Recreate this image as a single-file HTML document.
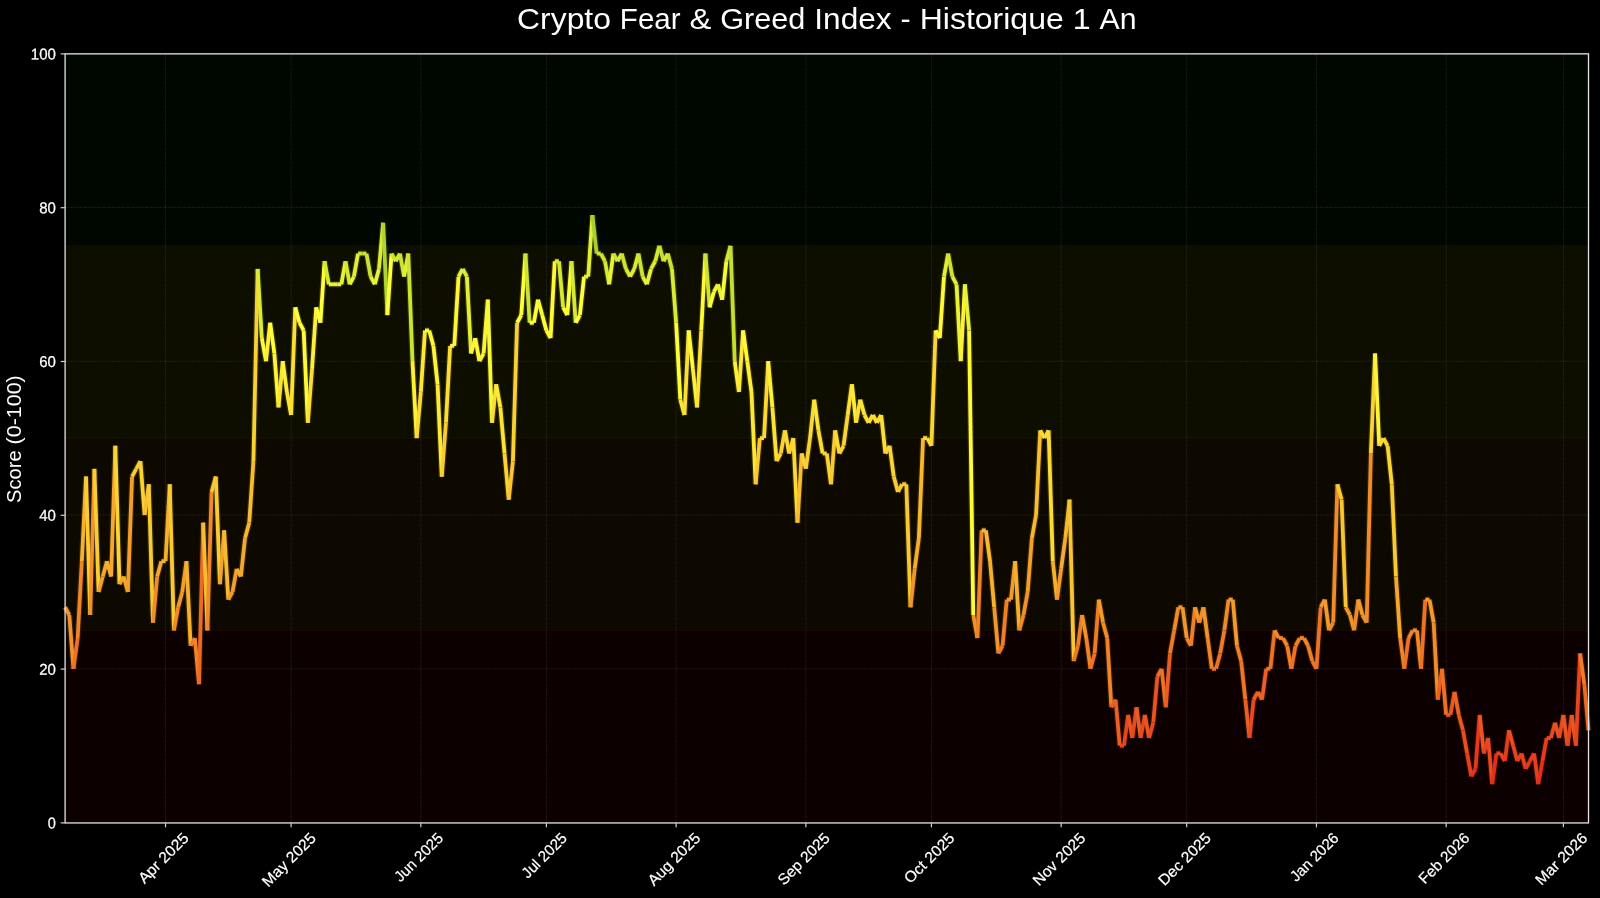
<!DOCTYPE html>
<html><head><meta charset="utf-8"><title>Crypto Fear &amp; Greed Index</title>
<style>html,body{margin:0;padding:0;background:#000;overflow:hidden}svg{display:block;will-change:transform}text{font-family:"Liberation Sans",sans-serif;fill:#fff}</style></head><body>
<svg width="1600" height="898" viewBox="0 0 1600 898">
<rect width="1600" height="898" fill="#000"/>
<rect x="65.10" y="53.60" width="1523.40" height="192.25" fill="#000600"/>
<rect x="65.10" y="245.85" width="1523.40" height="192.25" fill="#0d0d00"/>
<rect x="65.10" y="438.10" width="1523.40" height="192.25" fill="#0d0800"/>
<rect x="65.10" y="630.35" width="1523.40" height="192.25" fill="#0d0000"/>
<rect x="65.10" y="245.30" width="1523.40" height="1.1" fill="#0d1300"/>
<rect x="65.10" y="437.55" width="1523.40" height="1.1" fill="#1a1500"/>
<rect x="65.10" y="629.80" width="1523.40" height="1.1" fill="#1a0800"/>
<g stroke="#fff" stroke-opacity="0.030" stroke-width="1.1" fill="none">
<line x1="65.10" y1="668.80" x2="1588.50" y2="668.80"/>
<line x1="65.10" y1="515.00" x2="1588.50" y2="515.00"/>
<line x1="65.10" y1="361.20" x2="1588.50" y2="361.20"/>
<line x1="65.10" y1="207.40" x2="1588.50" y2="207.40"/>
<line x1="165.54" y1="822.60" x2="165.54" y2="53.60"/>
<line x1="291.10" y1="822.60" x2="291.10" y2="53.60"/>
<line x1="420.84" y1="822.60" x2="420.84" y2="53.60"/>
<line x1="546.39" y1="822.60" x2="546.39" y2="53.60"/>
<line x1="676.13" y1="822.60" x2="676.13" y2="53.60"/>
<line x1="805.87" y1="822.60" x2="805.87" y2="53.60"/>
<line x1="931.43" y1="822.60" x2="931.43" y2="53.60"/>
<line x1="1061.17" y1="822.60" x2="1061.17" y2="53.60"/>
<line x1="1186.72" y1="822.60" x2="1186.72" y2="53.60"/>
<line x1="1316.46" y1="822.60" x2="1316.46" y2="53.60"/>
<line x1="1446.20" y1="822.60" x2="1446.20" y2="53.60"/>
<line x1="1563.39" y1="822.60" x2="1563.39" y2="53.60"/>
</g>
<g stroke="#fff" stroke-opacity="0.050" stroke-width="1.1" stroke-dasharray="3.1 1.6" fill="none">
<line x1="65.10" y1="668.80" x2="1588.50" y2="668.80"/>
<line x1="65.10" y1="515.00" x2="1588.50" y2="515.00"/>
<line x1="65.10" y1="361.20" x2="1588.50" y2="361.20"/>
<line x1="65.10" y1="207.40" x2="1588.50" y2="207.40"/>
<line x1="165.54" y1="822.60" x2="165.54" y2="53.60"/>
<line x1="291.10" y1="822.60" x2="291.10" y2="53.60"/>
<line x1="420.84" y1="822.60" x2="420.84" y2="53.60"/>
<line x1="546.39" y1="822.60" x2="546.39" y2="53.60"/>
<line x1="676.13" y1="822.60" x2="676.13" y2="53.60"/>
<line x1="805.87" y1="822.60" x2="805.87" y2="53.60"/>
<line x1="931.43" y1="822.60" x2="931.43" y2="53.60"/>
<line x1="1061.17" y1="822.60" x2="1061.17" y2="53.60"/>
<line x1="1186.72" y1="822.60" x2="1186.72" y2="53.60"/>
<line x1="1316.46" y1="822.60" x2="1316.46" y2="53.60"/>
<line x1="1446.20" y1="822.60" x2="1446.20" y2="53.60"/>
<line x1="1563.39" y1="822.60" x2="1563.39" y2="53.60"/>
</g>
<defs><g id="segs" stroke-linecap="butt" fill="none">
<line x1="65.10" y1="607.28" x2="69.29" y2="614.97" stroke="#f1962b"/>
<line x1="69.29" y1="614.97" x2="73.47" y2="668.80" stroke="#f1932a"/>
<line x1="73.47" y1="668.80" x2="77.66" y2="638.04" stroke="#ec7326"/>
<line x1="77.66" y1="638.04" x2="81.84" y2="561.14" stroke="#ef8428"/>
<line x1="81.84" y1="561.14" x2="86.03" y2="476.55" stroke="#f5b12e"/>
<line x1="86.03" y1="476.55" x2="90.21" y2="614.97" stroke="#f9cc32"/>
<line x1="90.21" y1="614.97" x2="94.40" y2="468.86" stroke="#f1932a"/>
<line x1="94.40" y1="468.86" x2="98.58" y2="591.90" stroke="#f9ce32"/>
<line x1="98.58" y1="591.90" x2="102.77" y2="576.52" stroke="#f39f2c"/>
<line x1="102.77" y1="576.52" x2="106.95" y2="561.14" stroke="#f4a82d"/>
<line x1="106.95" y1="561.14" x2="111.14" y2="576.52" stroke="#f5b12e"/>
<line x1="111.14" y1="576.52" x2="115.32" y2="445.79" stroke="#f4a82d"/>
<line x1="115.32" y1="445.79" x2="119.51" y2="584.21" stroke="#fad534"/>
<line x1="119.51" y1="584.21" x2="123.69" y2="576.52" stroke="#f3a42d"/>
<line x1="123.69" y1="576.52" x2="127.88" y2="591.90" stroke="#f4a82d"/>
<line x1="127.88" y1="591.90" x2="132.06" y2="476.55" stroke="#f39f2c"/>
<line x1="132.06" y1="476.55" x2="136.25" y2="468.86" stroke="#f9cc32"/>
<line x1="136.25" y1="468.86" x2="140.43" y2="461.17" stroke="#f9ce32"/>
<line x1="140.43" y1="461.17" x2="144.62" y2="515.00" stroke="#fad033"/>
<line x1="144.62" y1="515.00" x2="148.80" y2="484.24" stroke="#f7bf30"/>
<line x1="148.80" y1="484.24" x2="152.99" y2="622.66" stroke="#f9c932"/>
<line x1="152.99" y1="622.66" x2="157.17" y2="576.52" stroke="#f08d29"/>
<line x1="157.17" y1="576.52" x2="161.36" y2="561.14" stroke="#f4a82d"/>
<line x1="161.36" y1="561.14" x2="165.54" y2="561.14" stroke="#f5b12e"/>
<line x1="165.54" y1="561.14" x2="169.73" y2="484.24" stroke="#f5b12e"/>
<line x1="169.73" y1="484.24" x2="173.91" y2="630.35" stroke="#f9c932"/>
<line x1="173.91" y1="630.35" x2="178.10" y2="607.28" stroke="#f08a29"/>
<line x1="178.10" y1="607.28" x2="182.28" y2="591.90" stroke="#f1962b"/>
<line x1="182.28" y1="591.90" x2="186.47" y2="561.14" stroke="#f39f2c"/>
<line x1="186.47" y1="561.14" x2="190.65" y2="645.73" stroke="#f5b12e"/>
<line x1="190.65" y1="645.73" x2="194.84" y2="638.04" stroke="#ee7f27"/>
<line x1="194.84" y1="638.04" x2="199.03" y2="684.18" stroke="#ef8428"/>
<line x1="199.03" y1="684.18" x2="203.21" y2="522.69" stroke="#eb6a24"/>
<line x1="203.21" y1="522.69" x2="207.40" y2="630.35" stroke="#f7bc30"/>
<line x1="207.40" y1="630.35" x2="211.58" y2="491.93" stroke="#f08a29"/>
<line x1="211.58" y1="491.93" x2="215.77" y2="476.55" stroke="#f8c732"/>
<line x1="215.77" y1="476.55" x2="219.95" y2="584.21" stroke="#f9cc32"/>
<line x1="219.95" y1="584.21" x2="224.14" y2="530.38" stroke="#f3a42d"/>
<line x1="224.14" y1="530.38" x2="228.32" y2="599.59" stroke="#f7ba30"/>
<line x1="228.32" y1="599.59" x2="232.51" y2="591.90" stroke="#f29b2b"/>
<line x1="232.51" y1="591.90" x2="236.69" y2="568.83" stroke="#f39f2c"/>
<line x1="236.69" y1="568.83" x2="240.88" y2="576.52" stroke="#f5ad2e"/>
<line x1="240.88" y1="576.52" x2="245.06" y2="538.07" stroke="#f4a82d"/>
<line x1="245.06" y1="538.07" x2="249.25" y2="522.69" stroke="#f6b72f"/>
<line x1="249.25" y1="522.69" x2="253.43" y2="461.17" stroke="#f7bc30"/>
<line x1="253.43" y1="461.17" x2="257.62" y2="268.92" stroke="#fad033"/>
<line x1="257.62" y1="268.92" x2="261.80" y2="338.13" stroke="#daeb34"/>
<line x1="261.80" y1="338.13" x2="265.99" y2="361.20" stroke="#fff838"/>
<line x1="265.99" y1="361.20" x2="270.17" y2="322.75" stroke="#fef037"/>
<line x1="270.17" y1="322.75" x2="274.36" y2="353.51" stroke="#fffd39"/>
<line x1="274.36" y1="353.51" x2="278.54" y2="407.34" stroke="#fff338"/>
<line x1="278.54" y1="407.34" x2="282.73" y2="361.20" stroke="#fce235"/>
<line x1="282.73" y1="361.20" x2="286.91" y2="391.96" stroke="#fef037"/>
<line x1="286.91" y1="391.96" x2="291.10" y2="415.03" stroke="#fde736"/>
<line x1="291.10" y1="415.03" x2="295.28" y2="307.37" stroke="#fcdf35"/>
<line x1="295.28" y1="307.37" x2="299.47" y2="322.75" stroke="#feff39"/>
<line x1="299.47" y1="322.75" x2="303.65" y2="330.44" stroke="#fffd39"/>
<line x1="303.65" y1="330.44" x2="307.84" y2="422.72" stroke="#fffa39"/>
<line x1="307.84" y1="422.72" x2="312.02" y2="368.89" stroke="#fcdd35"/>
<line x1="312.02" y1="368.89" x2="316.21" y2="307.37" stroke="#feee37"/>
<line x1="316.21" y1="307.37" x2="320.40" y2="322.75" stroke="#feff39"/>
<line x1="320.40" y1="322.75" x2="324.58" y2="261.23" stroke="#fffd39"/>
<line x1="324.58" y1="261.23" x2="328.77" y2="284.30" stroke="#d5e833"/>
<line x1="328.77" y1="284.30" x2="332.95" y2="284.30" stroke="#e8f336"/>
<line x1="332.95" y1="284.30" x2="337.14" y2="284.30" stroke="#e8f336"/>
<line x1="337.14" y1="284.30" x2="341.32" y2="284.30" stroke="#e8f336"/>
<line x1="341.32" y1="284.30" x2="345.51" y2="261.23" stroke="#e8f336"/>
<line x1="345.51" y1="261.23" x2="349.69" y2="284.30" stroke="#d5e833"/>
<line x1="349.69" y1="284.30" x2="353.88" y2="276.61" stroke="#e8f336"/>
<line x1="353.88" y1="276.61" x2="358.06" y2="253.54" stroke="#e3ef35"/>
<line x1="358.06" y1="253.54" x2="362.25" y2="253.54" stroke="#cde332"/>
<line x1="362.25" y1="253.54" x2="366.43" y2="253.54" stroke="#cde332"/>
<line x1="366.43" y1="253.54" x2="370.62" y2="276.61" stroke="#cde332"/>
<line x1="370.62" y1="276.61" x2="374.80" y2="284.30" stroke="#e3ef35"/>
<line x1="374.80" y1="284.30" x2="378.99" y2="268.92" stroke="#e8f336"/>
<line x1="378.99" y1="268.92" x2="383.17" y2="222.78" stroke="#daeb34"/>
<line x1="383.17" y1="222.78" x2="387.36" y2="315.06" stroke="#b1d32e"/>
<line x1="387.36" y1="315.06" x2="391.54" y2="253.54" stroke="#ffff39"/>
<line x1="391.54" y1="253.54" x2="395.73" y2="261.23" stroke="#cde332"/>
<line x1="395.73" y1="261.23" x2="399.91" y2="253.54" stroke="#d5e833"/>
<line x1="399.91" y1="253.54" x2="404.10" y2="276.61" stroke="#cde332"/>
<line x1="404.10" y1="276.61" x2="408.28" y2="253.54" stroke="#e3ef35"/>
<line x1="408.28" y1="253.54" x2="412.47" y2="361.20" stroke="#cde332"/>
<line x1="412.47" y1="361.20" x2="416.65" y2="438.10" stroke="#fef037"/>
<line x1="416.65" y1="438.10" x2="420.84" y2="391.96" stroke="#fbd834"/>
<line x1="420.84" y1="391.96" x2="425.02" y2="330.44" stroke="#fde736"/>
<line x1="425.02" y1="330.44" x2="429.21" y2="330.44" stroke="#fffa39"/>
<line x1="429.21" y1="330.44" x2="433.39" y2="345.82" stroke="#fffa39"/>
<line x1="433.39" y1="345.82" x2="437.58" y2="384.27" stroke="#fff538"/>
<line x1="437.58" y1="384.27" x2="441.76" y2="476.55" stroke="#fde936"/>
<line x1="441.76" y1="476.55" x2="445.95" y2="422.72" stroke="#f9cc32"/>
<line x1="445.95" y1="422.72" x2="450.14" y2="345.82" stroke="#fcdd35"/>
<line x1="450.14" y1="345.82" x2="454.32" y2="345.82" stroke="#fff538"/>
<line x1="454.32" y1="345.82" x2="458.51" y2="276.61" stroke="#fff538"/>
<line x1="458.51" y1="276.61" x2="462.69" y2="268.92" stroke="#e3ef35"/>
<line x1="462.69" y1="268.92" x2="466.88" y2="276.61" stroke="#daeb34"/>
<line x1="466.88" y1="276.61" x2="471.06" y2="353.51" stroke="#e3ef35"/>
<line x1="471.06" y1="353.51" x2="475.25" y2="338.13" stroke="#fff338"/>
<line x1="475.25" y1="338.13" x2="479.43" y2="361.20" stroke="#fff838"/>
<line x1="479.43" y1="361.20" x2="483.62" y2="353.51" stroke="#fef037"/>
<line x1="483.62" y1="353.51" x2="487.80" y2="299.68" stroke="#fff338"/>
<line x1="487.80" y1="299.68" x2="491.99" y2="422.72" stroke="#f6fa38"/>
<line x1="491.99" y1="422.72" x2="496.17" y2="384.27" stroke="#fcdd35"/>
<line x1="496.17" y1="384.27" x2="500.36" y2="407.34" stroke="#fde936"/>
<line x1="500.36" y1="407.34" x2="504.54" y2="453.48" stroke="#fce235"/>
<line x1="504.54" y1="453.48" x2="508.73" y2="499.62" stroke="#fad233"/>
<line x1="508.73" y1="499.62" x2="512.91" y2="461.17" stroke="#f8c431"/>
<line x1="512.91" y1="461.17" x2="517.10" y2="322.75" stroke="#fad033"/>
<line x1="517.10" y1="322.75" x2="521.28" y2="315.06" stroke="#fffd39"/>
<line x1="521.28" y1="315.06" x2="525.47" y2="253.54" stroke="#ffff39"/>
<line x1="525.47" y1="253.54" x2="529.65" y2="322.75" stroke="#cde332"/>
<line x1="529.65" y1="322.75" x2="533.84" y2="322.75" stroke="#fffd39"/>
<line x1="533.84" y1="322.75" x2="538.02" y2="299.68" stroke="#fffd39"/>
<line x1="538.02" y1="299.68" x2="542.21" y2="315.06" stroke="#f6fa38"/>
<line x1="542.21" y1="315.06" x2="546.39" y2="330.44" stroke="#ffff39"/>
<line x1="546.39" y1="330.44" x2="550.58" y2="338.13" stroke="#fffa39"/>
<line x1="550.58" y1="338.13" x2="554.76" y2="261.23" stroke="#fff838"/>
<line x1="554.76" y1="261.23" x2="558.95" y2="261.23" stroke="#d5e833"/>
<line x1="558.95" y1="261.23" x2="563.13" y2="307.37" stroke="#d5e833"/>
<line x1="563.13" y1="307.37" x2="567.32" y2="315.06" stroke="#feff39"/>
<line x1="567.32" y1="315.06" x2="571.50" y2="261.23" stroke="#ffff39"/>
<line x1="571.50" y1="261.23" x2="575.69" y2="322.75" stroke="#d5e833"/>
<line x1="575.69" y1="322.75" x2="579.88" y2="315.06" stroke="#fffd39"/>
<line x1="579.88" y1="315.06" x2="584.06" y2="276.61" stroke="#ffff39"/>
<line x1="584.06" y1="276.61" x2="588.25" y2="276.61" stroke="#e3ef35"/>
<line x1="588.25" y1="276.61" x2="592.43" y2="215.09" stroke="#e3ef35"/>
<line x1="592.43" y1="215.09" x2="596.62" y2="253.54" stroke="#a9cf2d"/>
<line x1="596.62" y1="253.54" x2="600.80" y2="253.54" stroke="#cde332"/>
<line x1="600.80" y1="253.54" x2="604.99" y2="261.23" stroke="#cde332"/>
<line x1="604.99" y1="261.23" x2="609.17" y2="284.30" stroke="#d5e833"/>
<line x1="609.17" y1="284.30" x2="613.36" y2="253.54" stroke="#e8f336"/>
<line x1="613.36" y1="253.54" x2="617.54" y2="261.23" stroke="#cde332"/>
<line x1="617.54" y1="261.23" x2="621.73" y2="253.54" stroke="#d5e833"/>
<line x1="621.73" y1="253.54" x2="625.91" y2="268.92" stroke="#cde332"/>
<line x1="625.91" y1="268.92" x2="630.10" y2="276.61" stroke="#daeb34"/>
<line x1="630.10" y1="276.61" x2="634.28" y2="268.92" stroke="#e3ef35"/>
<line x1="634.28" y1="268.92" x2="638.47" y2="253.54" stroke="#daeb34"/>
<line x1="638.47" y1="253.54" x2="642.65" y2="276.61" stroke="#cde332"/>
<line x1="642.65" y1="276.61" x2="646.84" y2="284.30" stroke="#e3ef35"/>
<line x1="646.84" y1="284.30" x2="651.02" y2="268.92" stroke="#e8f336"/>
<line x1="651.02" y1="268.92" x2="655.21" y2="261.23" stroke="#daeb34"/>
<line x1="655.21" y1="261.23" x2="659.39" y2="245.85" stroke="#d5e833"/>
<line x1="659.39" y1="245.85" x2="663.58" y2="261.23" stroke="#c5de31"/>
<line x1="663.58" y1="261.23" x2="667.76" y2="253.54" stroke="#d5e833"/>
<line x1="667.76" y1="253.54" x2="671.95" y2="268.92" stroke="#cde332"/>
<line x1="671.95" y1="268.92" x2="676.13" y2="322.75" stroke="#daeb34"/>
<line x1="676.13" y1="322.75" x2="680.32" y2="399.65" stroke="#fffd39"/>
<line x1="680.32" y1="399.65" x2="684.50" y2="415.03" stroke="#fde436"/>
<line x1="684.50" y1="415.03" x2="688.69" y2="330.44" stroke="#fcdf35"/>
<line x1="688.69" y1="330.44" x2="692.87" y2="368.89" stroke="#fffa39"/>
<line x1="692.87" y1="368.89" x2="697.06" y2="407.34" stroke="#feee37"/>
<line x1="697.06" y1="407.34" x2="701.25" y2="330.44" stroke="#fce235"/>
<line x1="701.25" y1="330.44" x2="705.43" y2="253.54" stroke="#fffa39"/>
<line x1="705.43" y1="253.54" x2="709.62" y2="307.37" stroke="#cde332"/>
<line x1="709.62" y1="307.37" x2="713.80" y2="291.99" stroke="#feff39"/>
<line x1="713.80" y1="291.99" x2="717.99" y2="284.30" stroke="#f0f737"/>
<line x1="717.99" y1="284.30" x2="722.17" y2="299.68" stroke="#e8f336"/>
<line x1="722.17" y1="299.68" x2="726.36" y2="261.23" stroke="#f6fa38"/>
<line x1="726.36" y1="261.23" x2="730.54" y2="245.85" stroke="#d5e833"/>
<line x1="730.54" y1="245.85" x2="734.73" y2="361.20" stroke="#c5de31"/>
<line x1="734.73" y1="361.20" x2="738.91" y2="391.96" stroke="#fef037"/>
<line x1="738.91" y1="391.96" x2="743.10" y2="330.44" stroke="#fde736"/>
<line x1="743.10" y1="330.44" x2="747.28" y2="361.20" stroke="#fffa39"/>
<line x1="747.28" y1="361.20" x2="751.47" y2="391.96" stroke="#fef037"/>
<line x1="751.47" y1="391.96" x2="755.65" y2="484.24" stroke="#fde736"/>
<line x1="755.65" y1="484.24" x2="759.84" y2="438.10" stroke="#f9c932"/>
<line x1="759.84" y1="438.10" x2="764.02" y2="438.10" stroke="#fbd834"/>
<line x1="764.02" y1="438.10" x2="768.21" y2="361.20" stroke="#fbd834"/>
<line x1="768.21" y1="361.20" x2="772.39" y2="407.34" stroke="#fef037"/>
<line x1="772.39" y1="407.34" x2="776.58" y2="461.17" stroke="#fce235"/>
<line x1="776.58" y1="461.17" x2="780.76" y2="453.48" stroke="#fad033"/>
<line x1="780.76" y1="453.48" x2="784.95" y2="430.41" stroke="#fad233"/>
<line x1="784.95" y1="430.41" x2="789.13" y2="453.48" stroke="#fbda34"/>
<line x1="789.13" y1="453.48" x2="793.32" y2="438.10" stroke="#fad233"/>
<line x1="793.32" y1="438.10" x2="797.50" y2="522.69" stroke="#fbd834"/>
<line x1="797.50" y1="522.69" x2="801.69" y2="453.48" stroke="#f7bc30"/>
<line x1="801.69" y1="453.48" x2="805.87" y2="468.86" stroke="#fad233"/>
<line x1="805.87" y1="468.86" x2="810.06" y2="438.10" stroke="#f9ce32"/>
<line x1="810.06" y1="438.10" x2="814.24" y2="399.65" stroke="#fbd834"/>
<line x1="814.24" y1="399.65" x2="818.43" y2="430.41" stroke="#fde436"/>
<line x1="818.43" y1="430.41" x2="822.61" y2="453.48" stroke="#fbda34"/>
<line x1="822.61" y1="453.48" x2="826.80" y2="453.48" stroke="#fad233"/>
<line x1="826.80" y1="453.48" x2="830.99" y2="484.24" stroke="#fad233"/>
<line x1="830.99" y1="484.24" x2="835.17" y2="430.41" stroke="#f9c932"/>
<line x1="835.17" y1="430.41" x2="839.36" y2="453.48" stroke="#fbda34"/>
<line x1="839.36" y1="453.48" x2="843.54" y2="445.79" stroke="#fad233"/>
<line x1="843.54" y1="445.79" x2="847.73" y2="415.03" stroke="#fad534"/>
<line x1="847.73" y1="415.03" x2="851.91" y2="384.27" stroke="#fcdf35"/>
<line x1="851.91" y1="384.27" x2="856.10" y2="422.72" stroke="#fde936"/>
<line x1="856.10" y1="422.72" x2="860.28" y2="399.65" stroke="#fcdd35"/>
<line x1="860.28" y1="399.65" x2="864.47" y2="415.03" stroke="#fde436"/>
<line x1="864.47" y1="415.03" x2="868.65" y2="422.72" stroke="#fcdf35"/>
<line x1="868.65" y1="422.72" x2="872.84" y2="415.03" stroke="#fcdd35"/>
<line x1="872.84" y1="415.03" x2="877.02" y2="422.72" stroke="#fcdf35"/>
<line x1="877.02" y1="422.72" x2="881.21" y2="415.03" stroke="#fcdd35"/>
<line x1="881.21" y1="415.03" x2="885.39" y2="453.48" stroke="#fcdf35"/>
<line x1="885.39" y1="453.48" x2="889.58" y2="445.79" stroke="#fad233"/>
<line x1="889.58" y1="445.79" x2="893.76" y2="476.55" stroke="#fad534"/>
<line x1="893.76" y1="476.55" x2="897.95" y2="491.93" stroke="#f9cc32"/>
<line x1="897.95" y1="491.93" x2="902.13" y2="484.24" stroke="#f8c732"/>
<line x1="902.13" y1="484.24" x2="906.32" y2="484.24" stroke="#f9c932"/>
<line x1="906.32" y1="484.24" x2="910.50" y2="607.28" stroke="#f9c932"/>
<line x1="910.50" y1="607.28" x2="914.69" y2="568.83" stroke="#f1962b"/>
<line x1="914.69" y1="568.83" x2="918.87" y2="538.07" stroke="#f5ad2e"/>
<line x1="918.87" y1="538.07" x2="923.06" y2="438.10" stroke="#f6b72f"/>
<line x1="923.06" y1="438.10" x2="927.24" y2="438.10" stroke="#fbd834"/>
<line x1="927.24" y1="438.10" x2="931.43" y2="445.79" stroke="#fbd834"/>
<line x1="931.43" y1="445.79" x2="935.61" y2="330.44" stroke="#fad534"/>
<line x1="935.61" y1="330.44" x2="939.80" y2="338.13" stroke="#fffa39"/>
<line x1="939.80" y1="338.13" x2="943.98" y2="276.61" stroke="#fff838"/>
<line x1="943.98" y1="276.61" x2="948.17" y2="253.54" stroke="#e3ef35"/>
<line x1="948.17" y1="253.54" x2="952.35" y2="276.61" stroke="#cde332"/>
<line x1="952.35" y1="276.61" x2="956.54" y2="284.30" stroke="#e3ef35"/>
<line x1="956.54" y1="284.30" x2="960.73" y2="361.20" stroke="#e8f336"/>
<line x1="960.73" y1="361.20" x2="964.91" y2="284.30" stroke="#fef037"/>
<line x1="964.91" y1="284.30" x2="969.10" y2="330.44" stroke="#e8f336"/>
<line x1="969.10" y1="330.44" x2="973.28" y2="614.97" stroke="#fffa39"/>
<line x1="973.28" y1="614.97" x2="977.47" y2="638.04" stroke="#f1932a"/>
<line x1="977.47" y1="638.04" x2="981.65" y2="530.38" stroke="#ef8428"/>
<line x1="981.65" y1="530.38" x2="985.84" y2="530.38" stroke="#f7ba30"/>
<line x1="985.84" y1="530.38" x2="990.02" y2="561.14" stroke="#f7ba30"/>
<line x1="990.02" y1="561.14" x2="994.21" y2="607.28" stroke="#f5b12e"/>
<line x1="994.21" y1="607.28" x2="998.39" y2="653.42" stroke="#f1962b"/>
<line x1="998.39" y1="653.42" x2="1002.58" y2="645.73" stroke="#ee7c27"/>
<line x1="1002.58" y1="645.73" x2="1006.76" y2="599.59" stroke="#ee7f27"/>
<line x1="1006.76" y1="599.59" x2="1010.95" y2="599.59" stroke="#f29b2b"/>
<line x1="1010.95" y1="599.59" x2="1015.13" y2="561.14" stroke="#f29b2b"/>
<line x1="1015.13" y1="561.14" x2="1019.32" y2="630.35" stroke="#f5b12e"/>
<line x1="1019.32" y1="630.35" x2="1023.50" y2="614.97" stroke="#f08a29"/>
<line x1="1023.50" y1="614.97" x2="1027.69" y2="591.90" stroke="#f1932a"/>
<line x1="1027.69" y1="591.90" x2="1031.87" y2="538.07" stroke="#f39f2c"/>
<line x1="1031.87" y1="538.07" x2="1036.06" y2="515.00" stroke="#f6b72f"/>
<line x1="1036.06" y1="515.00" x2="1040.24" y2="430.41" stroke="#f7bf30"/>
<line x1="1040.24" y1="430.41" x2="1044.43" y2="438.10" stroke="#fbda34"/>
<line x1="1044.43" y1="438.10" x2="1048.61" y2="430.41" stroke="#fbd834"/>
<line x1="1048.61" y1="430.41" x2="1052.80" y2="561.14" stroke="#fbda34"/>
<line x1="1052.80" y1="561.14" x2="1056.98" y2="599.59" stroke="#f5b12e"/>
<line x1="1056.98" y1="599.59" x2="1061.17" y2="568.83" stroke="#f29b2b"/>
<line x1="1061.17" y1="568.83" x2="1065.35" y2="538.07" stroke="#f5ad2e"/>
<line x1="1065.35" y1="538.07" x2="1069.54" y2="499.62" stroke="#f6b72f"/>
<line x1="1069.54" y1="499.62" x2="1073.72" y2="661.11" stroke="#f8c431"/>
<line x1="1073.72" y1="661.11" x2="1077.91" y2="645.73" stroke="#ed7626"/>
<line x1="1077.91" y1="645.73" x2="1082.10" y2="614.97" stroke="#ee7f27"/>
<line x1="1082.10" y1="614.97" x2="1086.28" y2="638.04" stroke="#f1932a"/>
<line x1="1086.28" y1="638.04" x2="1090.47" y2="668.80" stroke="#ef8428"/>
<line x1="1090.47" y1="668.80" x2="1094.65" y2="653.42" stroke="#ec7326"/>
<line x1="1094.65" y1="653.42" x2="1098.84" y2="599.59" stroke="#ee7c27"/>
<line x1="1098.84" y1="599.59" x2="1103.02" y2="622.66" stroke="#f29b2b"/>
<line x1="1103.02" y1="622.66" x2="1107.21" y2="638.04" stroke="#f08d29"/>
<line x1="1107.21" y1="638.04" x2="1111.39" y2="707.25" stroke="#ef8428"/>
<line x1="1111.39" y1="707.25" x2="1115.58" y2="699.56" stroke="#e95c22"/>
<line x1="1115.58" y1="699.56" x2="1119.76" y2="745.70" stroke="#ea5f23"/>
<line x1="1119.76" y1="745.70" x2="1123.95" y2="745.70" stroke="#e6451f"/>
<line x1="1123.95" y1="745.70" x2="1128.13" y2="714.94" stroke="#e6451f"/>
<line x1="1128.13" y1="714.94" x2="1132.32" y2="738.01" stroke="#e85722"/>
<line x1="1132.32" y1="738.01" x2="1136.50" y2="707.25" stroke="#e74a20"/>
<line x1="1136.50" y1="707.25" x2="1140.69" y2="738.01" stroke="#e95c22"/>
<line x1="1140.69" y1="738.01" x2="1144.87" y2="714.94" stroke="#e74a20"/>
<line x1="1144.87" y1="714.94" x2="1149.06" y2="738.01" stroke="#e85722"/>
<line x1="1149.06" y1="738.01" x2="1153.24" y2="722.63" stroke="#e74a20"/>
<line x1="1153.24" y1="722.63" x2="1157.43" y2="676.49" stroke="#e85321"/>
<line x1="1157.43" y1="676.49" x2="1161.61" y2="668.80" stroke="#ec6d25"/>
<line x1="1161.61" y1="668.80" x2="1165.80" y2="707.25" stroke="#ec7326"/>
<line x1="1165.80" y1="707.25" x2="1169.98" y2="653.42" stroke="#e95c22"/>
<line x1="1169.98" y1="653.42" x2="1174.17" y2="630.35" stroke="#ee7c27"/>
<line x1="1174.17" y1="630.35" x2="1178.35" y2="607.28" stroke="#f08a29"/>
<line x1="1178.35" y1="607.28" x2="1182.54" y2="607.28" stroke="#f1962b"/>
<line x1="1182.54" y1="607.28" x2="1186.72" y2="638.04" stroke="#f1962b"/>
<line x1="1186.72" y1="638.04" x2="1190.91" y2="645.73" stroke="#ef8428"/>
<line x1="1190.91" y1="645.73" x2="1195.09" y2="607.28" stroke="#ee7f27"/>
<line x1="1195.09" y1="607.28" x2="1199.28" y2="622.66" stroke="#f1962b"/>
<line x1="1199.28" y1="622.66" x2="1203.46" y2="607.28" stroke="#f08d29"/>
<line x1="1203.46" y1="607.28" x2="1207.65" y2="638.04" stroke="#f1962b"/>
<line x1="1207.65" y1="638.04" x2="1211.84" y2="668.80" stroke="#ef8428"/>
<line x1="1211.84" y1="668.80" x2="1216.02" y2="668.80" stroke="#ec7326"/>
<line x1="1216.02" y1="668.80" x2="1220.21" y2="653.42" stroke="#ec7326"/>
<line x1="1220.21" y1="653.42" x2="1224.39" y2="630.35" stroke="#ee7c27"/>
<line x1="1224.39" y1="630.35" x2="1228.58" y2="599.59" stroke="#f08a29"/>
<line x1="1228.58" y1="599.59" x2="1232.76" y2="599.59" stroke="#f29b2b"/>
<line x1="1232.76" y1="599.59" x2="1236.95" y2="645.73" stroke="#f29b2b"/>
<line x1="1236.95" y1="645.73" x2="1241.13" y2="661.11" stroke="#ee7f27"/>
<line x1="1241.13" y1="661.11" x2="1245.32" y2="699.56" stroke="#ed7626"/>
<line x1="1245.32" y1="699.56" x2="1249.50" y2="738.01" stroke="#ea5f23"/>
<line x1="1249.50" y1="738.01" x2="1253.69" y2="699.56" stroke="#e74a20"/>
<line x1="1253.69" y1="699.56" x2="1257.87" y2="691.87" stroke="#ea5f23"/>
<line x1="1257.87" y1="691.87" x2="1262.06" y2="699.56" stroke="#ea6524"/>
<line x1="1262.06" y1="699.56" x2="1266.24" y2="668.80" stroke="#ea5f23"/>
<line x1="1266.24" y1="668.80" x2="1270.43" y2="668.80" stroke="#ec7326"/>
<line x1="1270.43" y1="668.80" x2="1274.61" y2="630.35" stroke="#ec7326"/>
<line x1="1274.61" y1="630.35" x2="1278.80" y2="638.04" stroke="#f08a29"/>
<line x1="1278.80" y1="638.04" x2="1282.98" y2="638.04" stroke="#ef8428"/>
<line x1="1282.98" y1="638.04" x2="1287.17" y2="645.73" stroke="#ef8428"/>
<line x1="1287.17" y1="645.73" x2="1291.35" y2="668.80" stroke="#ee7f27"/>
<line x1="1291.35" y1="668.80" x2="1295.54" y2="645.73" stroke="#ec7326"/>
<line x1="1295.54" y1="645.73" x2="1299.72" y2="638.04" stroke="#ee7f27"/>
<line x1="1299.72" y1="638.04" x2="1303.91" y2="638.04" stroke="#ef8428"/>
<line x1="1303.91" y1="638.04" x2="1308.09" y2="645.73" stroke="#ef8428"/>
<line x1="1308.09" y1="645.73" x2="1312.28" y2="661.11" stroke="#ee7f27"/>
<line x1="1312.28" y1="661.11" x2="1316.46" y2="668.80" stroke="#ed7626"/>
<line x1="1316.46" y1="668.80" x2="1320.65" y2="607.28" stroke="#ec7326"/>
<line x1="1320.65" y1="607.28" x2="1324.83" y2="599.59" stroke="#f1962b"/>
<line x1="1324.83" y1="599.59" x2="1329.02" y2="630.35" stroke="#f29b2b"/>
<line x1="1329.02" y1="630.35" x2="1333.20" y2="622.66" stroke="#f08a29"/>
<line x1="1333.20" y1="622.66" x2="1337.39" y2="484.24" stroke="#f08d29"/>
<line x1="1337.39" y1="484.24" x2="1341.58" y2="499.62" stroke="#f9c932"/>
<line x1="1341.58" y1="499.62" x2="1345.76" y2="607.28" stroke="#f8c431"/>
<line x1="1345.76" y1="607.28" x2="1349.95" y2="614.97" stroke="#f1962b"/>
<line x1="1349.95" y1="614.97" x2="1354.13" y2="630.35" stroke="#f1932a"/>
<line x1="1354.13" y1="630.35" x2="1358.32" y2="599.59" stroke="#f08a29"/>
<line x1="1358.32" y1="599.59" x2="1362.50" y2="614.97" stroke="#f29b2b"/>
<line x1="1362.50" y1="614.97" x2="1366.69" y2="622.66" stroke="#f1932a"/>
<line x1="1366.69" y1="622.66" x2="1370.87" y2="453.48" stroke="#f08d29"/>
<line x1="1370.87" y1="453.48" x2="1375.06" y2="353.51" stroke="#fad233"/>
<line x1="1375.06" y1="353.51" x2="1379.24" y2="445.79" stroke="#fff338"/>
<line x1="1379.24" y1="445.79" x2="1383.43" y2="438.10" stroke="#fad534"/>
<line x1="1383.43" y1="438.10" x2="1387.61" y2="445.79" stroke="#fbd834"/>
<line x1="1387.61" y1="445.79" x2="1391.80" y2="484.24" stroke="#fad534"/>
<line x1="1391.80" y1="484.24" x2="1395.98" y2="576.52" stroke="#f9c932"/>
<line x1="1395.98" y1="576.52" x2="1400.17" y2="638.04" stroke="#f4a82d"/>
<line x1="1400.17" y1="638.04" x2="1404.35" y2="668.80" stroke="#ef8428"/>
<line x1="1404.35" y1="668.80" x2="1408.54" y2="638.04" stroke="#ec7326"/>
<line x1="1408.54" y1="638.04" x2="1412.72" y2="630.35" stroke="#ef8428"/>
<line x1="1412.72" y1="630.35" x2="1416.91" y2="630.35" stroke="#f08a29"/>
<line x1="1416.91" y1="630.35" x2="1421.09" y2="668.80" stroke="#f08a29"/>
<line x1="1421.09" y1="668.80" x2="1425.28" y2="599.59" stroke="#ec7326"/>
<line x1="1425.28" y1="599.59" x2="1429.46" y2="599.59" stroke="#f29b2b"/>
<line x1="1429.46" y1="599.59" x2="1433.65" y2="622.66" stroke="#f29b2b"/>
<line x1="1433.65" y1="622.66" x2="1437.83" y2="699.56" stroke="#f08d29"/>
<line x1="1437.83" y1="699.56" x2="1442.02" y2="668.80" stroke="#ea5f23"/>
<line x1="1442.02" y1="668.80" x2="1446.20" y2="714.94" stroke="#ec7326"/>
<line x1="1446.20" y1="714.94" x2="1450.39" y2="714.94" stroke="#e85722"/>
<line x1="1450.39" y1="714.94" x2="1454.57" y2="691.87" stroke="#e85722"/>
<line x1="1454.57" y1="691.87" x2="1458.76" y2="714.94" stroke="#ea6524"/>
<line x1="1458.76" y1="714.94" x2="1462.95" y2="730.32" stroke="#e85722"/>
<line x1="1462.95" y1="730.32" x2="1467.13" y2="753.39" stroke="#e74e20"/>
<line x1="1467.13" y1="753.39" x2="1471.32" y2="776.46" stroke="#e5411f"/>
<line x1="1471.32" y1="776.46" x2="1475.50" y2="768.77" stroke="#e3331d"/>
<line x1="1475.50" y1="768.77" x2="1479.69" y2="714.94" stroke="#e4371d"/>
<line x1="1479.69" y1="714.94" x2="1483.87" y2="753.39" stroke="#e85722"/>
<line x1="1483.87" y1="753.39" x2="1488.06" y2="738.01" stroke="#e5411f"/>
<line x1="1488.06" y1="738.01" x2="1492.24" y2="784.15" stroke="#e74a20"/>
<line x1="1492.24" y1="784.15" x2="1496.43" y2="753.39" stroke="#e32e1c"/>
<line x1="1496.43" y1="753.39" x2="1500.61" y2="753.39" stroke="#e5411f"/>
<line x1="1500.61" y1="753.39" x2="1504.80" y2="761.08" stroke="#e5411f"/>
<line x1="1504.80" y1="761.08" x2="1508.98" y2="730.32" stroke="#e53c1e"/>
<line x1="1508.98" y1="730.32" x2="1513.17" y2="745.70" stroke="#e74e20"/>
<line x1="1513.17" y1="745.70" x2="1517.35" y2="761.08" stroke="#e6451f"/>
<line x1="1517.35" y1="761.08" x2="1521.54" y2="753.39" stroke="#e53c1e"/>
<line x1="1521.54" y1="753.39" x2="1525.72" y2="768.77" stroke="#e5411f"/>
<line x1="1525.72" y1="768.77" x2="1529.91" y2="761.08" stroke="#e4371d"/>
<line x1="1529.91" y1="761.08" x2="1534.09" y2="753.39" stroke="#e53c1e"/>
<line x1="1534.09" y1="753.39" x2="1538.28" y2="784.15" stroke="#e5411f"/>
<line x1="1538.28" y1="784.15" x2="1542.46" y2="761.08" stroke="#e32e1c"/>
<line x1="1542.46" y1="761.08" x2="1546.65" y2="738.01" stroke="#e53c1e"/>
<line x1="1546.65" y1="738.01" x2="1550.83" y2="738.01" stroke="#e74a20"/>
<line x1="1550.83" y1="738.01" x2="1555.02" y2="722.63" stroke="#e74a20"/>
<line x1="1555.02" y1="722.63" x2="1559.20" y2="738.01" stroke="#e85321"/>
<line x1="1559.20" y1="738.01" x2="1563.39" y2="714.94" stroke="#e74a20"/>
<line x1="1563.39" y1="714.94" x2="1567.57" y2="745.70" stroke="#e85722"/>
<line x1="1567.57" y1="745.70" x2="1571.76" y2="714.94" stroke="#e6451f"/>
<line x1="1571.76" y1="714.94" x2="1575.94" y2="745.70" stroke="#e85722"/>
<line x1="1575.94" y1="745.70" x2="1580.13" y2="653.42" stroke="#e6451f"/>
<line x1="1580.13" y1="653.42" x2="1584.31" y2="684.18" stroke="#ee7c27"/>
<line x1="1584.31" y1="684.18" x2="1588.50" y2="730.32" stroke="#eb6a24"/>
</g></defs>
<use href="#segs" stroke-width="6.20" opacity="0.16"/>
<use href="#segs" stroke-width="3.80"/>
<rect x="65.10" y="53.85" width="1523.40" height="769.10" fill="none" stroke="#e4e4e4" stroke-width="1.3"/>
<g stroke="#d0d0d0" stroke-width="1.2">
<line x1="60.70" y1="822.90" x2="65.10" y2="822.90"/>
<line x1="60.70" y1="669.10" x2="65.10" y2="669.10"/>
<line x1="60.70" y1="515.30" x2="65.10" y2="515.30"/>
<line x1="60.70" y1="361.50" x2="65.10" y2="361.50"/>
<line x1="60.70" y1="207.70" x2="65.10" y2="207.70"/>
<line x1="60.70" y1="53.90" x2="65.10" y2="53.90"/>
<line x1="165.54" y1="822.95" x2="165.54" y2="827.35"/>
<line x1="291.10" y1="822.95" x2="291.10" y2="827.35"/>
<line x1="420.84" y1="822.95" x2="420.84" y2="827.35"/>
<line x1="546.39" y1="822.95" x2="546.39" y2="827.35"/>
<line x1="676.13" y1="822.95" x2="676.13" y2="827.35"/>
<line x1="805.87" y1="822.95" x2="805.87" y2="827.35"/>
<line x1="931.43" y1="822.95" x2="931.43" y2="827.35"/>
<line x1="1061.17" y1="822.95" x2="1061.17" y2="827.35"/>
<line x1="1186.72" y1="822.95" x2="1186.72" y2="827.35"/>
<line x1="1316.46" y1="822.95" x2="1316.46" y2="827.35"/>
<line x1="1446.20" y1="822.95" x2="1446.20" y2="827.35"/>
<line x1="1563.39" y1="822.95" x2="1563.39" y2="827.35"/>
</g>
<text x="55.95" y="828.45" transform="rotate(0.05 55.95 828.45)" font-size="15.70" text-anchor="end" textLength="8.1" lengthAdjust="spacingAndGlyphs" stroke="#fff" stroke-width="0.25">0</text>
<text x="55.95" y="674.65" transform="rotate(0.05 55.95 674.65)" font-size="15.70" text-anchor="end" textLength="16.7" lengthAdjust="spacingAndGlyphs" stroke="#fff" stroke-width="0.25">20</text>
<text x="55.95" y="520.85" transform="rotate(0.05 55.95 520.85)" font-size="15.70" text-anchor="end" textLength="16.7" lengthAdjust="spacingAndGlyphs" stroke="#fff" stroke-width="0.25">40</text>
<text x="55.95" y="367.05" transform="rotate(0.05 55.95 367.05)" font-size="15.70" text-anchor="end" textLength="16.7" lengthAdjust="spacingAndGlyphs" stroke="#fff" stroke-width="0.25">60</text>
<text x="55.95" y="213.25" transform="rotate(0.05 55.95 213.25)" font-size="15.70" text-anchor="end" textLength="16.7" lengthAdjust="spacingAndGlyphs" stroke="#fff" stroke-width="0.25">80</text>
<text x="55.95" y="59.45" transform="rotate(0.05 55.95 59.45)" font-size="15.70" text-anchor="end" textLength="25.2" lengthAdjust="spacingAndGlyphs" stroke="#fff" stroke-width="0.25">100</text>
<text transform="translate(189.66,839.10) rotate(-45)" font-size="15.30" text-anchor="end" textLength="64.00" lengthAdjust="spacingAndGlyphs" stroke="#fff" stroke-width="0.2">Apr 2025</text>
<text transform="translate(316.89,839.10) rotate(-45)" font-size="15.30" text-anchor="end" textLength="68.73" lengthAdjust="spacingAndGlyphs" stroke="#fff" stroke-width="0.2">May 2025</text>
<text transform="translate(444.13,839.10) rotate(-45)" font-size="15.30" text-anchor="end" textLength="61.66" lengthAdjust="spacingAndGlyphs" stroke="#fff" stroke-width="0.2">Jun 2025</text>
<text transform="translate(567.92,839.10) rotate(-45)" font-size="15.30" text-anchor="end" textLength="56.68" lengthAdjust="spacingAndGlyphs" stroke="#fff" stroke-width="0.2">Jul 2025</text>
<text transform="translate(701.36,839.10) rotate(-45)" font-size="15.30" text-anchor="end" textLength="67.12" lengthAdjust="spacingAndGlyphs" stroke="#fff" stroke-width="0.2">Aug 2025</text>
<text transform="translate(830.76,839.10) rotate(-45)" font-size="15.30" text-anchor="end" textLength="66.17" lengthAdjust="spacingAndGlyphs" stroke="#fff" stroke-width="0.2">Sep 2025</text>
<text transform="translate(955.54,839.10) rotate(-45)" font-size="15.30" text-anchor="end" textLength="63.99" lengthAdjust="spacingAndGlyphs" stroke="#fff" stroke-width="0.2">Oct 2025</text>
<text transform="translate(1086.39,839.10) rotate(-45)" font-size="15.30" text-anchor="end" textLength="67.11" lengthAdjust="spacingAndGlyphs" stroke="#fff" stroke-width="0.2">Nov 2025</text>
<text transform="translate(1211.86,839.10) rotate(-45)" font-size="15.30" text-anchor="end" textLength="66.87" lengthAdjust="spacingAndGlyphs" stroke="#fff" stroke-width="0.2">Dec 2025</text>
<text transform="translate(1339.65,839.10) rotate(-45)" font-size="15.30" text-anchor="end" textLength="61.37" lengthAdjust="spacingAndGlyphs" stroke="#fff" stroke-width="0.2">Jan 2026</text>
<text transform="translate(1470.52,839.10) rotate(-45)" font-size="15.30" text-anchor="end" textLength="64.57" lengthAdjust="spacingAndGlyphs" stroke="#fff" stroke-width="0.2">Feb 2026</text>
<text transform="translate(1588.29,839.10) rotate(-45)" font-size="15.30" text-anchor="end" textLength="66.20" lengthAdjust="spacingAndGlyphs" stroke="#fff" stroke-width="0.2">Mar 2026</text>
<g transform="translate(20.9,502.9) rotate(-90)" font-size="19.4">
<text x="0.00" y="0" textLength="52.55" lengthAdjust="spacingAndGlyphs">Score</text>
<text x="58.51" y="0" textLength="69.15" lengthAdjust="spacingAndGlyphs">(0-100)</text>
</g>
<g font-size="29.5">
<text x="517.10" y="29.2" textLength="93.83" lengthAdjust="spacingAndGlyphs">Crypto</text>
<text x="619.86" y="29.2" textLength="60.68" lengthAdjust="spacingAndGlyphs">Fear</text>
<text x="689.47" y="29.2" textLength="21.91" lengthAdjust="spacingAndGlyphs">&amp;</text>
<text x="720.31" y="29.2" textLength="85.11" lengthAdjust="spacingAndGlyphs">Greed</text>
<text x="814.34" y="29.2" textLength="77.34" lengthAdjust="spacingAndGlyphs">Index</text>
<text x="900.62" y="29.2" textLength="10.13" lengthAdjust="spacingAndGlyphs">-</text>
<text x="919.69" y="29.2" textLength="144.06" lengthAdjust="spacingAndGlyphs">Historique</text>
<text x="1072.67" y="29.2" textLength="17.88" lengthAdjust="spacingAndGlyphs">1</text>
<text x="1099.47" y="29.2" textLength="37.02" lengthAdjust="spacingAndGlyphs">An</text>
</g>
</svg></body></html>
